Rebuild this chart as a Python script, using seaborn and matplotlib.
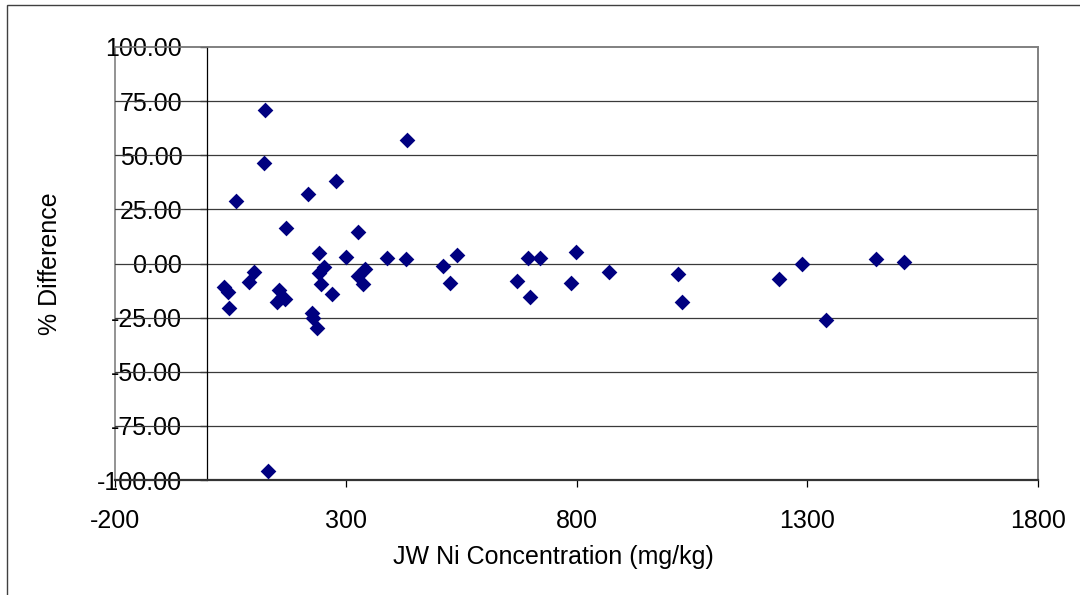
import numpy as np
import pandas as pd
import matplotlib
matplotlib.use("Agg")
import matplotlib.pyplot as plt
import seaborn as sns
from matplotlib.patches import Rectangle

# JW Ni concentration (mg/kg) vs % difference
ni_conc = [36, 45, 48, 62, 90, 102, 125, 123.5, 132, 155, 152, 162, 168,
           170.5, 217.5, 226, 230, 238, 243, 241, 246, 253, 271, 279, 300.5,
           327, 342, 327, 338, 390, 432, 430.5, 511.5, 526, 541.7, 670,
           695.6, 699, 721, 788, 799, 871, 1019, 1029, 1239, 1289, 1340,
           1449, 1510]
pct_diff = [-10.7, -13.1, -20.6, 29.0, -8.5, -3.7, 70.7, 46.3, -96.0, -12.2,
            -18.0, -15.4, -16.5, 16.4, 32.1, -22.7, -25.0, -29.6, 4.8, -4.6,
            -9.3, -1.5, -14.2, 38.3, 3.1, 14.7, -2.6, -5.7, -9.5, 2.5, 57.1,
            2.0, -1.1, -9.1, 4.0, -8.0, 2.5, -15.3, 2.5, -9.1, 5.4, -3.8,
            -4.9, -17.7, -7.2, 0.0, -26.1, 2.0, 0.5]

x_ticks = [-200, 300, 800, 1300, 1800]
y_ticks = [-100, -75, -50, -25, 0, 25, 50, 75, 100]

df = pd.DataFrame({"conc": ni_conc, "diff": pct_diff})

sns.set_style("white")
plt.rcParams["font.family"] = ["Liberation Sans", "DejaVu Sans"]
plt.rcParams["axes.unicode_minus"] = False
plt.rcParams["text.color"] = "black"
plt.rcParams["axes.labelcolor"] = "black"
plt.rcParams["xtick.color"] = "black"
plt.rcParams["ytick.color"] = "black"

fig = plt.figure(figsize=(10.8, 5.95), dpi=100)
ax = fig.add_axes([115 / 1080, 1 - 480 / 595, (1038 - 115) / 1080, (480 - 47) / 595])

# outer chart frame (left + top edges visible)
fig.patches.append(Rectangle((7 / 1080, -0.1), 1.2, 1 - 5 / 595 + 0.1,
                             transform=fig.transFigure, fill=False,
                             edgecolor="#404040", linewidth=1))

for yv in y_ticks[1:-1]:
    ax.axhline(yv, color="#3a3a3a", linewidth=0.9, zorder=1)

sns.scatterplot(data=df, x="conc", y="diff", marker="D", s=64,
                color="#000080", linewidth=0, ax=ax, zorder=3)

ax.set_xlim(-200, 1800)
ax.set_ylim(-100, 100)
ax.set_xticks(x_ticks)
ax.set_yticks(y_ticks)
ax.set_yticklabels([f"{v:.2f}" for v in y_ticks])

# plot-area border in grey, axes in black
ax.patch.set_edgecolor("#808080")
ax.patch.set_linewidth(1.2)
for s in ["top", "right"]:
    ax.spines[s].set_color("#808080")
    ax.spines[s].set_linewidth(1.2)
ax.spines["left"].set_position(("data", 0))
ax.spines["left"].set_color("black")
ax.spines["left"].set_linewidth(0.9)
ax.spines["bottom"].set_color("#333333")
ax.spines["bottom"].set_linewidth(1.6)

ax.tick_params(axis="y", direction="out", length=5, width=0.9,
               pad=13, labelsize=18, left=True)
ax.tick_params(axis="x", direction="out", length=5, width=0.9,
               pad=16, labelsize=18, bottom=True)

ax.set_xlabel("JW Ni Concentration (mg/kg)", fontsize=18)
ax.set_ylabel("% Difference", fontsize=18)
ax.xaxis.set_label_coords((553 - 115) / 923, -(557 - 480) / 433)
ax.xaxis.label.set_va("center")
ax.yaxis.set_label_coords((50 - 115) / 923, 0.5)
ax.yaxis.label.set_va("center")

fig.savefig("out.png", dpi=100)
